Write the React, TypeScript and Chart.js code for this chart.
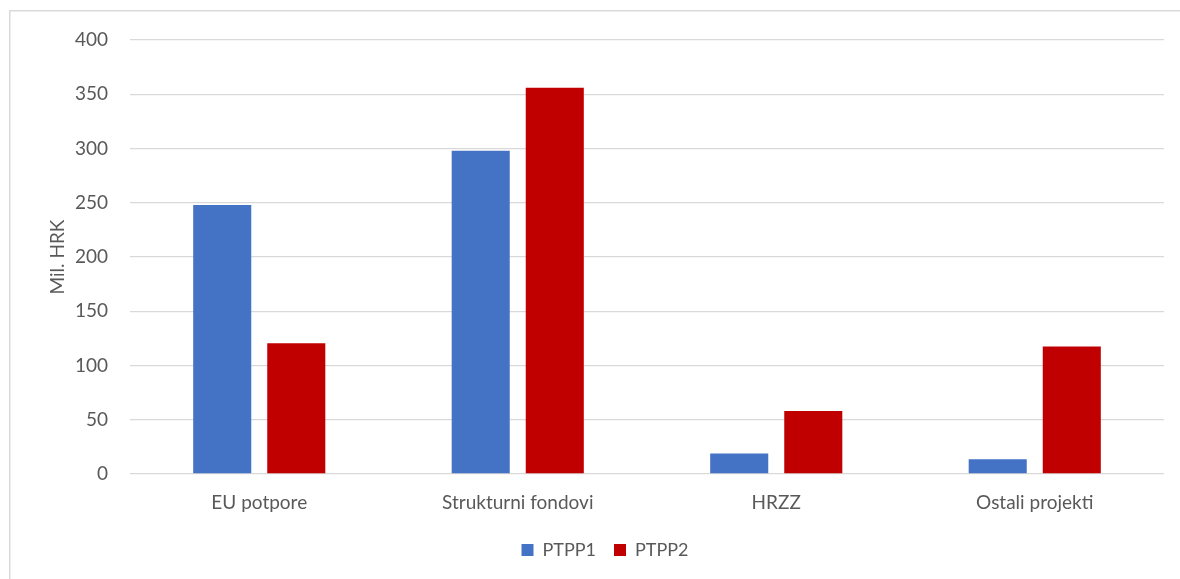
import React, { useEffect, useRef } from "react";
import { Chart, registerables } from "chart.js";

Chart.register(...registerables);

const categories = ["EU potpore", "Strukturni fondovi", "HRZZ", "Ostali projekti"];
const ptpp1 = [248, 298, 18.8, 13.6];
const ptpp2 = [120.5, 356, 58, 117.6];
const seriesNames = ["PTPP1", "PTPP2"];
const yTitle = "Mil. HRK";

const FONT = "Lato, 'Open Sans', sans-serif";
const TEXT = "#595959";
const GRID = "#d9d9d9";
const FS = 19;

const framePlugin = {
  id: "frame",
  beforeDraw(chart: any) {
    const ctx = chart.ctx;
    ctx.save();
    ctx.fillStyle = "#ffffff";
    ctx.fillRect(0, 0, chart.width, chart.height);
    ctx.strokeStyle = GRID;
    ctx.lineWidth = 1.5;
    ctx.strokeRect(9.75, 10.75, chart.width + 20, chart.height + 20);
    ctx.restore();
  },
};

export default function App() {
  const ref = useRef<HTMLCanvasElement | null>(null);
  useEffect(() => {
    document.body.style.margin = "0";
    const canvas = ref.current!;
    const chart = new Chart(canvas, {
      type: "bar",
      data: {
        labels: categories,
        datasets: [
          {
            label: seriesNames[0],
            data: ptpp1,
            backgroundColor: "#4472C4",
            categoryPercentage: 0.573,
            barPercentage: 0.784,
          },
          {
            label: seriesNames[1],
            data: ptpp2,
            backgroundColor: "#C00000",
            categoryPercentage: 0.573,
            barPercentage: 0.784,
          },
        ],
      },
      options: {
        responsive: false,
        animation: false,
        layout: { padding: { left: 46, right: 16, top: 40, bottom: 10 } },
        plugins: {
          tooltip: { enabled: false },
          legend: {
            position: "bottom",
            labels: {
              boxWidth: 12,
              boxHeight: 12,
              padding: 18,
              color: TEXT,
              font: { family: FONT, size: 18 },
            },
          },
        },
        scales: {
          x: {
            grid: { display: false },
            border: { display: false },
            ticks: { color: TEXT, font: { family: FONT, size: FS }, padding: 9 },
            afterFit(scale: any) {
              scale.height = 49;
            },
          },
          y: {
            min: 0,
            max: 400,
            ticks: { stepSize: 50, color: TEXT, font: { family: FONT, size: FS }, padding: 22 },
            grid: { color: GRID, lineWidth: 1.3, drawTicks: false },
            border: { display: false },
            title: { display: true, text: yTitle, color: TEXT, font: { family: FONT, size: FS }, padding: 0 },
            afterFit(scale: any) {
              scale.width = 84;
            },
          },
        },
      },
      plugins: [framePlugin],
    });
    return () => chart.destroy();
  }, []);
  return <canvas ref={ref} width={1180} height={579} style={{ display: "block" }} />;
}
